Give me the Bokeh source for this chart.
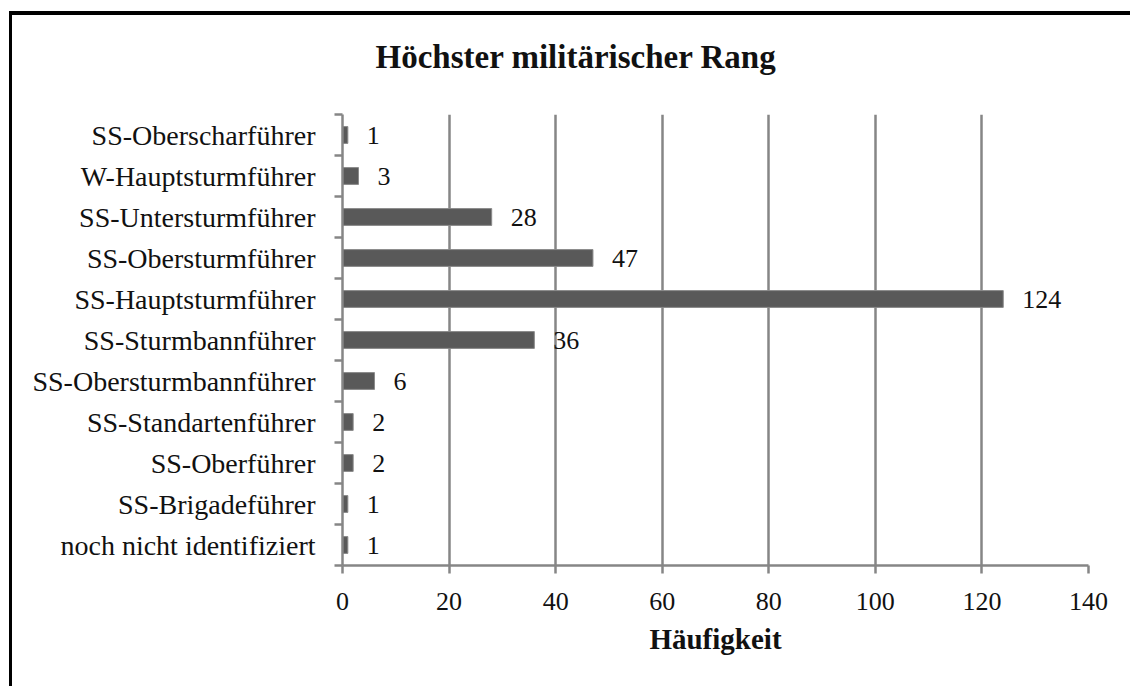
from bokeh.plotting import figure
from bokeh.models import FixedTicker, Range1d, Title, ColumnDataSource, LabelSet
from bokeh.embed import file_html
from bokeh.resources import INLINE

categories = [
    "SS-Oberscharführer",
    "W-Hauptsturmführer",
    "SS-Untersturmführer",
    "SS-Obersturmführer",
    "SS-Hauptsturmführer",
    "SS-Sturmbannführer",
    "SS-Obersturmbannführer",
    "SS-Standartenführer",
    "SS-Oberführer",
    "SS-Brigadeführer",
    "noch nicht identifiziert",
]
counts = [1, 3, 28, 47, 124, 36, 6, 2, 2, 1, 1]
x_ticks = [0, 20, 40, 60, 80, 100, 120, 140]
title_text = "Höchster militärischer Rang"

n = len(categories)
ypos = [n - 1 - i + 0.5 for i in range(n)]
boundaries = list(range(n + 1))

FONT = "Liberation Serif"

p = figure(width=1130, height=686, output_backend="svg", toolbar_location=None,
           x_range=Range1d(0, 140), y_range=Range1d(0, n),
           min_border_left=342, min_border_right=42, min_border_top=114, min_border_bottom=121)
# frame of the surrounding box (left and top edges), drawn behind a transparent canvas border
p.styles = {"background": "linear-gradient(#000,#000) 9px 11px / 3px 100% no-repeat, "
                          "linear-gradient(#000,#000) 9px 11px / 100% 4px no-repeat, #ffffff"}
p.outline_line_color = None
p.background_fill_color = "white"
p.border_fill_color = None
p.border_fill_alpha = 0

src = ColumnDataSource(dict(y=ypos, v=counts, lbl=[str(c) for c in counts]))
p.hbar(y="y", right="v", left=0, height=0.41, source=src,
       fill_color="#595959", line_color="#8a8a8a", line_width=1)

labels = LabelSet(x="v", y="y", text="lbl", source=src, x_offset=19, y_offset=0,
                  text_align="left", text_baseline="middle",
                  text_font=FONT, text_font_size="26px", text_color="#111111")
p.add_layout(labels)

# x axis
p.xaxis.ticker = FixedTicker(ticks=x_ticks)
p.xaxis.axis_line_color = "#868686"
p.xaxis.axis_line_width = 2.5
p.xaxis.major_tick_line_color = "#868686"
p.xaxis.major_tick_line_width = 2.5
p.xaxis.major_tick_out = 8
p.xaxis.major_tick_in = 0
p.xaxis.minor_tick_line_color = None
p.xaxis.major_label_text_font = FONT
p.xaxis.major_label_text_font_size = "26px"
p.xaxis.major_label_text_color = "#111111"
p.xaxis.major_label_standoff = 19
p.xaxis.axis_label = "Häufigkeit"
p.xaxis.axis_label_text_font = FONT
p.xaxis.axis_label_text_font_size = "29px"
p.xaxis.axis_label_text_font_style = "bold"
p.xaxis.axis_label_text_color = "#111111"
p.xaxis.axis_label_standoff = 10

# y axis
p.yaxis.ticker = FixedTicker(ticks=ypos, minor_ticks=boundaries)
p.yaxis.major_label_overrides = {y: c for y, c in zip(ypos, categories)}
p.yaxis.axis_line_color = "#868686"
p.yaxis.axis_line_width = 2.5
p.yaxis.major_tick_line_color = None
p.yaxis.major_tick_out = 0
p.yaxis.major_tick_in = 0
p.yaxis.minor_tick_line_color = "#868686"
p.yaxis.minor_tick_line_width = 2.5
p.yaxis.minor_tick_out = 8
p.yaxis.minor_tick_in = 0
p.yaxis.major_label_text_font = FONT
p.yaxis.major_label_text_font_size = "28px"
p.yaxis.major_label_text_color = "#111111"
p.yaxis.major_label_standoff = 19

p.xgrid.ticker = FixedTicker(ticks=x_ticks[1:])
p.xgrid.grid_line_color = "#868686"
p.xgrid.grid_line_width = 2.5
p.ygrid.grid_line_color = None

p.title = Title(text=title_text, align="left", offset=33, vertical_align="top",
                text_font=FONT, text_font_size="33px", text_font_style="bold",
                text_color="#111111", standoff=76)

open("out.html", "w").write(file_html(p, INLINE))
